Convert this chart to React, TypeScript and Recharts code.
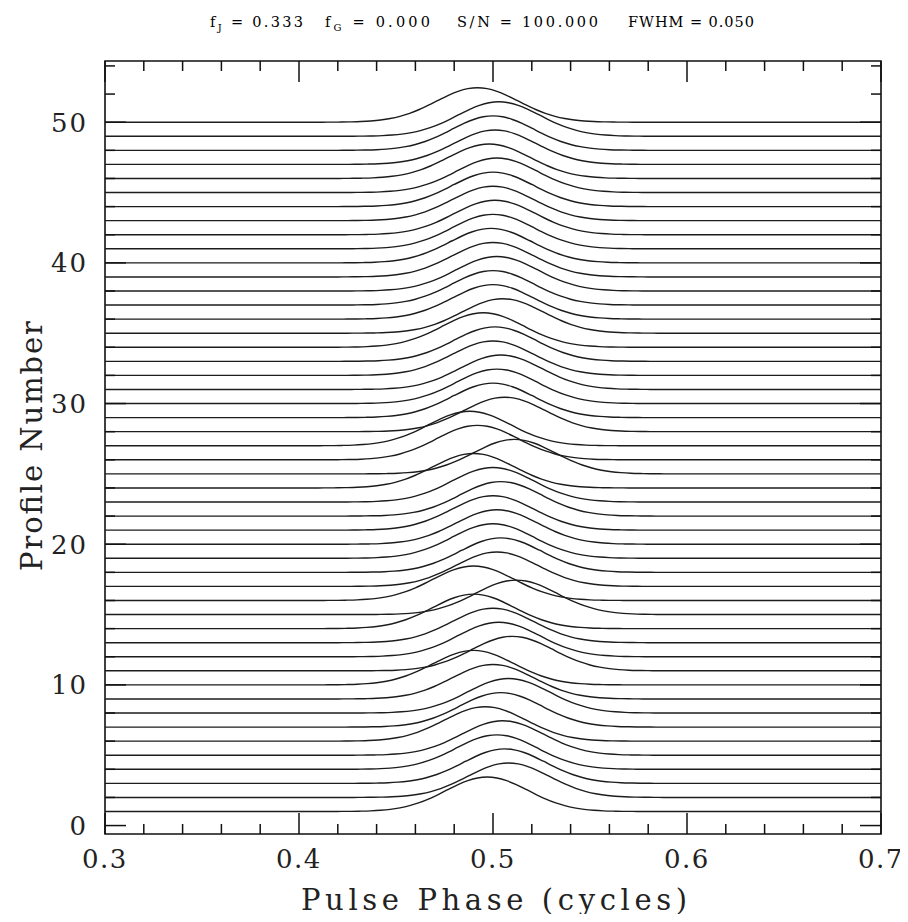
import React from "react";
import { LineChart, Line, XAxis, YAxis, ReferenceArea } from "recharts";

// profile numbers, bottom to top
const PROFILE_NUMBERS = [
  1, 2, 3, 4, 5, 6, 7, 8, 9, 10, 11, 12, 13, 14, 15, 16, 17, 18, 19, 20, 21, 22, 23, 24, 25,
  26, 27, 28, 29, 30, 31, 32, 33, 34, 35, 36, 37, 38, 39, 40, 41, 42, 43, 44, 45, 46, 47, 48,
  49, 50,
];

// pulse centre (phase) of each profile
const PULSE_CENTERS = [
  0.497, 0.508, 0.506, 0.502, 0.505, 0.496, 0.504, 0.508, 0.5, 0.49,
  0.51, 0.503, 0.5, 0.49, 0.512, 0.49, 0.502, 0.504, 0.5, 0.502,
  0.5, 0.504, 0.5, 0.49, 0.511, 0.492, 0.488, 0.506, 0.5, 0.502,
  0.504, 0.5, 0.501, 0.495, 0.505, 0.5, 0.5, 0.502, 0.5, 0.499,
  0.5, 0.501, 0.5, 0.5, 0.502, 0.498, 0.501, 0.5, 0.503, 0.492,
];

// pulse shape: offset from centre (cycles) and height above the baseline
const TEMPLATE_OFFSETS = [
  -0.08, -0.075, -0.07, -0.065, -0.06, -0.055, -0.05, -0.045, -0.04, -0.035, -0.03, -0.025,
  -0.02, -0.015, -0.01, -0.005, 0, 0.005, 0.01, 0.015, 0.02, 0.025, 0.03, 0.035, 0.04, 0.045,
  0.05, 0.055, 0.06, 0.065, 0.07, 0.075, 0.08,
];
const TEMPLATE_HEIGHTS = [
  0, 0.005, 0.011, 0.023, 0.045, 0.086, 0.153, 0.259, 0.416, 0.63, 0.903, 1.225,
  1.572, 1.909, 2.193, 2.383, 2.45, 2.383, 2.193, 1.909, 1.572, 1.225, 0.903, 0.63, 0.416, 0.259,
  0.153, 0.086, 0.045, 0.023, 0.011, 0.005, 0,
];

const PHASE_RANGE = [0.3, 0.7];
const PROFILE_RANGE = [-0.6, 54.35];

const X_TICKS = [
  0.3, 0.32, 0.34, 0.36, 0.38, 0.4, 0.42, 0.44, 0.46, 0.48, 0.5, 0.52, 0.54, 0.56, 0.58, 0.6,
  0.62, 0.64, 0.66, 0.68, 0.7,
];
const X_MAJOR = [0.3, 0.4, 0.5, 0.6, 0.7];
const Y_TICKS = [
  0, 2, 4, 6, 8, 10, 12, 14, 16, 18, 20, 22, 24, 26, 28, 30, 32, 34, 36, 38, 40, 42, 44, 46,
  48, 50, 52, 54,
];
const Y_MAJOR = [0, 10, 20, 30, 40, 50];

const W = 900;
const H = 906;
const PLOT_W = 776;
const PLOT_H = 773;
const INK = "#111";
const FONT = "'DejaVu Serif', serif";

const profiles = PROFILE_NUMBERS.map((n, i) => [
  { phase: PHASE_RANGE[0], value: n },
  ...TEMPLATE_OFFSETS.map((d, j) => ({
    phase: PULSE_CENTERS[i] + d,
    value: n + TEMPLATE_HEIGHTS[j],
  })),
  { phase: PHASE_RANGE[1], value: n },
]);

function XTick(props: any) {
  const { x, y, payload } = props;
  const major = X_MAJOR.includes(payload.value);
  const len = major ? 21 : 10;
  return (
    <g>
      <line x1={x} y1={y} x2={x} y2={y - len} stroke={INK} strokeWidth={1.5} />
      <line x1={x} y1={y - PLOT_H} x2={x} y2={y - PLOT_H + len} stroke={INK} strokeWidth={1.5} />
      {major && (
        <text
          x={x}
          y={y + 25}
          dy="0.36em"
          textAnchor="middle"
          fontFamily={FONT}
          fontSize={26}
          letterSpacing={1.5}
          fill="#222"
        >
          {payload.value.toFixed(1)}
        </text>
      )}
    </g>
  );
}

function YTick(props: any) {
  const { x, y, payload } = props;
  const major = Y_MAJOR.includes(payload.value);
  const len = major ? 21 : 10;
  return (
    <g>
      <line x1={x} y1={y} x2={x + len} y2={y} stroke={INK} strokeWidth={1.5} />
      <line x1={x + PLOT_W} y1={y} x2={x + PLOT_W - len} y2={y} stroke={INK} strokeWidth={1.5} />
      {major && (
        <text
          x={x - 17}
          y={y}
          dy="0.36em"
          textAnchor="end"
          fontFamily={FONT}
          fontSize={26}
          letterSpacing={2}
          fill="#222"
        >
          {payload.value}
        </text>
      )}
    </g>
  );
}

export default function App() {
  return (
    <div style={{ position: "relative", width: W, height: H }}>
      <style>{`.recharts-surface { overflow: visible; }`}</style>
      <LineChart width={W} height={H} margin={{ top: 53, right: 27, bottom: 34, left: 37 }}>
        <XAxis
          type="number"
          dataKey="phase"
          domain={PHASE_RANGE}
          allowDataOverflow
          ticks={X_TICKS}
          interval={0}
          height={46}
          axisLine={false}
          tickLine={false}
          tickSize={0}
          tickMargin={0}
          tick={XTick}
        />
        <YAxis
          type="number"
          dataKey="value"
          domain={PROFILE_RANGE}
          allowDataOverflow
          ticks={Y_TICKS}
          interval={0}
          width={60}
          axisLine={false}
          tickLine={false}
          tickSize={0}
          tickMargin={0}
          tick={YTick}
        />
        {profiles.map((data, i) => (
          <Line
            key={PROFILE_NUMBERS[i]}
            data={data}
            dataKey="value"
            type="monotone"
            stroke="#1c1c1c"
            strokeWidth={1.4}
            dot={false}
            activeDot={false}
            isAnimationActive={false}
          />
        ))}
        <ReferenceArea
          x1={PHASE_RANGE[0]}
          x2={PHASE_RANGE[1]}
          y1={PROFILE_RANGE[0]}
          y2={PROFILE_RANGE[1]}
          fill="none"
          stroke={INK}
          strokeWidth={1.6}
          ifOverflow="visible"
        />
      </LineChart>
      <svg
        width={W}
        height={H}
        style={{ position: "absolute", left: 0, top: 0, overflow: "visible", pointerEvents: "none" }}
      >
        <g fontFamily={FONT} fontSize={14.5} fill="#000">
          <text x={202} y={19} textLength={93} lengthAdjust="spacing">
            f<tspan dy={4} fontSize={10}>J</tspan>
            <tspan dy={-4}> = 0.333</tspan>
          </text>
          <text x={317} y={19} textLength={105} lengthAdjust="spacing">
            f<tspan dy={4} fontSize={10}>G</tspan>
            <tspan dy={-4}> = 0.000</tspan>
          </text>
          <text x={449} y={19} textLength={141} lengthAdjust="spacing">
            S/N = 100.000
          </text>
          <text x={620} y={19} textLength={126} lengthAdjust="spacing">
            FWHM = 0.050
          </text>
        </g>
        <text
          x={486}
          y={902}
          textAnchor="middle"
          fontFamily={FONT}
          fontSize={29}
          fill="#222"
          textLength={386}
          lengthAdjust="spacing"
        >
          Pulse Phase (cycles)
        </text>
        <text
          transform="translate(34,438) rotate(-90)"
          textAnchor="middle"
          fontFamily={FONT}
          fontSize={29}
          fill="#222"
          textLength={250}
          lengthAdjust="spacing"
        >
          Profile Number
        </text>
      </svg>
    </div>
  );
}
